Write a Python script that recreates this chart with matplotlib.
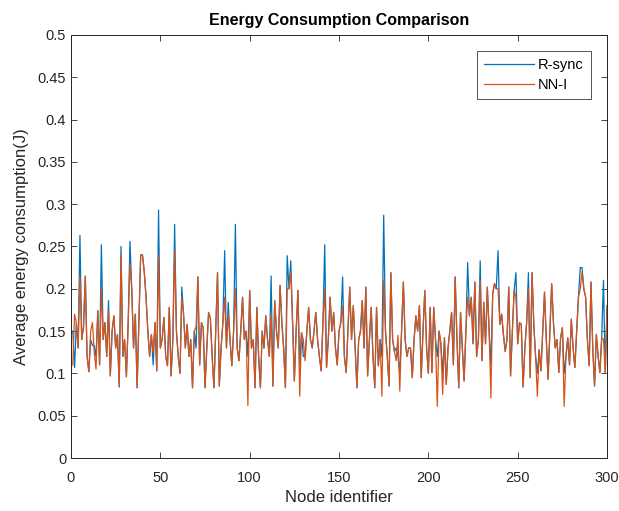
import matplotlib
matplotlib.use("Agg")
import matplotlib.pyplot as plt
import numpy as np
from matplotlib.ticker import FuncFormatter

plt.rcParams["font.family"] = ["Liberation Sans", "DejaVu Sans"]

# Node identifiers 1..300 and the two energy series
nodes = list(range(1, 301))

r_sync = [
    0.150, 0.107, 0.160, 0.130, 0.263, 0.140, 0.155, 0.215, 0.120, 0.102,
    0.140, 0.133, 0.133, 0.120, 0.174, 0.110, 0.252, 0.140, 0.160, 0.120,
    0.186, 0.097, 0.150, 0.168, 0.130, 0.146, 0.084, 0.250, 0.120, 0.140,
    0.096, 0.160, 0.256, 0.200, 0.130, 0.170, 0.083, 0.160, 0.240, 0.240,
    0.220, 0.190, 0.150, 0.120, 0.146, 0.110, 0.160, 0.103, 0.293, 0.130,
    0.140, 0.166, 0.120, 0.109, 0.178, 0.097, 0.140, 0.276, 0.150, 0.120,
    0.100, 0.202, 0.170, 0.130, 0.158, 0.120, 0.140, 0.083, 0.150, 0.130,
    0.214, 0.110, 0.160, 0.154, 0.083, 0.130, 0.172, 0.165, 0.120, 0.083,
    0.150, 0.219, 0.085, 0.130, 0.160, 0.245, 0.130, 0.184, 0.140, 0.109,
    0.150, 0.276, 0.130, 0.115, 0.150, 0.190, 0.140, 0.150, 0.120, 0.198,
    0.130, 0.140, 0.083, 0.178, 0.120, 0.083, 0.150, 0.130, 0.168, 0.140,
    0.120, 0.215, 0.085, 0.186, 0.150, 0.130, 0.204, 0.160, 0.130, 0.083,
    0.239, 0.200, 0.233, 0.160, 0.091, 0.150, 0.198, 0.110, 0.148, 0.120,
    0.120, 0.150, 0.178, 0.140, 0.130, 0.150, 0.172, 0.140, 0.120, 0.103,
    0.160, 0.252, 0.107, 0.140, 0.190, 0.150, 0.172, 0.130, 0.110, 0.150,
    0.160, 0.214, 0.120, 0.101, 0.150, 0.202, 0.140, 0.180, 0.130, 0.083,
    0.140, 0.150, 0.186, 0.130, 0.202, 0.097, 0.140, 0.178, 0.120, 0.083,
    0.178, 0.109, 0.140, 0.120, 0.287, 0.150, 0.120, 0.085, 0.219, 0.140,
    0.126, 0.130, 0.120, 0.100, 0.150, 0.208, 0.140, 0.120, 0.130, 0.130,
    0.095, 0.140, 0.168, 0.150, 0.180, 0.095, 0.150, 0.198, 0.130, 0.100,
    0.178, 0.101, 0.178, 0.140, 0.120, 0.150, 0.135, 0.100, 0.142, 0.087,
    0.130, 0.150, 0.172, 0.110, 0.214, 0.140, 0.083, 0.172, 0.130, 0.091,
    0.150, 0.231, 0.168, 0.190, 0.135, 0.208, 0.120, 0.140, 0.233, 0.115,
    0.184, 0.135, 0.202, 0.150, 0.110, 0.194, 0.206, 0.200, 0.245, 0.158,
    0.170, 0.146, 0.126, 0.140, 0.202, 0.097, 0.150, 0.198, 0.219, 0.135,
    0.160, 0.158, 0.084, 0.130, 0.160, 0.219, 0.095, 0.219, 0.158, 0.120,
    0.100, 0.128, 0.103, 0.150, 0.196, 0.140, 0.093, 0.150, 0.206, 0.160,
    0.130, 0.140, 0.101, 0.142, 0.154, 0.100, 0.120, 0.142, 0.110, 0.164,
    0.130, 0.107, 0.150, 0.190, 0.225, 0.225, 0.200, 0.190, 0.140, 0.109,
    0.208, 0.130, 0.085, 0.146, 0.120, 0.101, 0.142, 0.210, 0.100, 0.180,
]

nn_i = [
    0.110, 0.170, 0.160, 0.130, 0.215, 0.140, 0.155, 0.215, 0.120, 0.102,
    0.150, 0.160, 0.125, 0.105, 0.174, 0.110, 0.200, 0.140, 0.160, 0.120,
    0.175, 0.097, 0.150, 0.168, 0.130, 0.146, 0.084, 0.240, 0.120, 0.140,
    0.096, 0.160, 0.230, 0.200, 0.130, 0.170, 0.083, 0.160, 0.240, 0.240,
    0.220, 0.190, 0.150, 0.120, 0.146, 0.125, 0.160, 0.103, 0.240, 0.130,
    0.140, 0.166, 0.120, 0.109, 0.178, 0.097, 0.140, 0.245, 0.150, 0.120,
    0.100, 0.190, 0.170, 0.130, 0.158, 0.120, 0.140, 0.083, 0.150, 0.155,
    0.214, 0.110, 0.160, 0.154, 0.083, 0.130, 0.172, 0.165, 0.120, 0.083,
    0.150, 0.219, 0.085, 0.130, 0.160, 0.190, 0.130, 0.170, 0.140, 0.109,
    0.150, 0.200, 0.130, 0.115, 0.150, 0.190, 0.140, 0.150, 0.062, 0.198,
    0.130, 0.140, 0.083, 0.178, 0.120, 0.083, 0.150, 0.130, 0.168, 0.140,
    0.120, 0.170, 0.085, 0.186, 0.150, 0.130, 0.204, 0.160, 0.130, 0.083,
    0.200, 0.200, 0.220, 0.160, 0.091, 0.150, 0.198, 0.073, 0.148, 0.140,
    0.115, 0.150, 0.178, 0.140, 0.130, 0.150, 0.172, 0.140, 0.120, 0.103,
    0.160, 0.200, 0.107, 0.140, 0.190, 0.150, 0.172, 0.130, 0.110, 0.150,
    0.160, 0.180, 0.120, 0.101, 0.150, 0.202, 0.140, 0.180, 0.130, 0.083,
    0.140, 0.150, 0.186, 0.130, 0.202, 0.097, 0.140, 0.178, 0.120, 0.083,
    0.178, 0.109, 0.140, 0.073, 0.210, 0.150, 0.120, 0.085, 0.219, 0.140,
    0.126, 0.115, 0.145, 0.079, 0.150, 0.208, 0.140, 0.120, 0.130, 0.130,
    0.095, 0.140, 0.168, 0.150, 0.180, 0.095, 0.150, 0.198, 0.130, 0.100,
    0.178, 0.101, 0.178, 0.140, 0.061, 0.150, 0.135, 0.075, 0.142, 0.087,
    0.130, 0.150, 0.172, 0.110, 0.214, 0.140, 0.083, 0.172, 0.130, 0.091,
    0.150, 0.190, 0.168, 0.190, 0.135, 0.208, 0.120, 0.140, 0.210, 0.115,
    0.184, 0.135, 0.202, 0.150, 0.071, 0.194, 0.206, 0.200, 0.200, 0.158,
    0.170, 0.146, 0.126, 0.140, 0.202, 0.097, 0.150, 0.198, 0.190, 0.135,
    0.160, 0.158, 0.084, 0.130, 0.160, 0.200, 0.095, 0.219, 0.158, 0.120,
    0.073, 0.128, 0.103, 0.150, 0.196, 0.140, 0.093, 0.150, 0.206, 0.160,
    0.130, 0.140, 0.101, 0.142, 0.154, 0.061, 0.120, 0.142, 0.110, 0.164,
    0.130, 0.107, 0.150, 0.190, 0.200, 0.220, 0.200, 0.190, 0.140, 0.109,
    0.208, 0.130, 0.085, 0.146, 0.120, 0.101, 0.142, 0.140, 0.100, 0.180,
]

x_ticks = [0, 50, 100, 150, 200, 250, 300]
y_ticks = [0, 0.05, 0.1, 0.15, 0.2, 0.25, 0.3, 0.35, 0.4, 0.45, 0.5]

fig = plt.figure(figsize=(6.19, 5.11), dpi=100)
ax = fig.add_axes([0.1147, 0.1037, 0.866, 0.828])

ax.plot(nodes, r_sync, color="#0072BD", linewidth=0.9, label="R-sync")
ax.plot(nodes, nn_i, color="#D95319", linewidth=0.9, label="NN-I")

ax.set_xlim(0, 300)
ax.set_ylim(0, 0.5)
ax.set_xticks(x_ticks)
ax.set_yticks(y_ticks)
ax.yaxis.set_major_formatter(FuncFormatter(lambda v, _: f"{v:g}"))
ax.tick_params(direction="in", length=4, width=0.6, labelsize=10.5,
               colors="#262626", top=True, right=True)
ax.tick_params(axis="x", pad=9)
for spine in ax.spines.values():
    spine.set_linewidth(0.7)
    spine.set_color("#262626")

ax.set_title("Energy Consumption Comparison", fontsize=11.5, fontweight="bold", pad=7)
ax.set_xlabel("Node identifier", fontsize=12, color="#262626", labelpad=4)
ax.set_ylabel("Average energy consumption(J)", fontsize=12, color="#262626", labelpad=6)

leg = ax.legend(loc="upper right", fontsize=10.5, frameon=True, fancybox=False,
                borderaxespad=1.1, handlelength=3.4, handletextpad=0.3,
                borderpad=0.5, labelspacing=0.4)
leg.get_frame().set_edgecolor("#262626")
leg.get_frame().set_linewidth(0.7)

fig.savefig("out.png", dpi=100)
